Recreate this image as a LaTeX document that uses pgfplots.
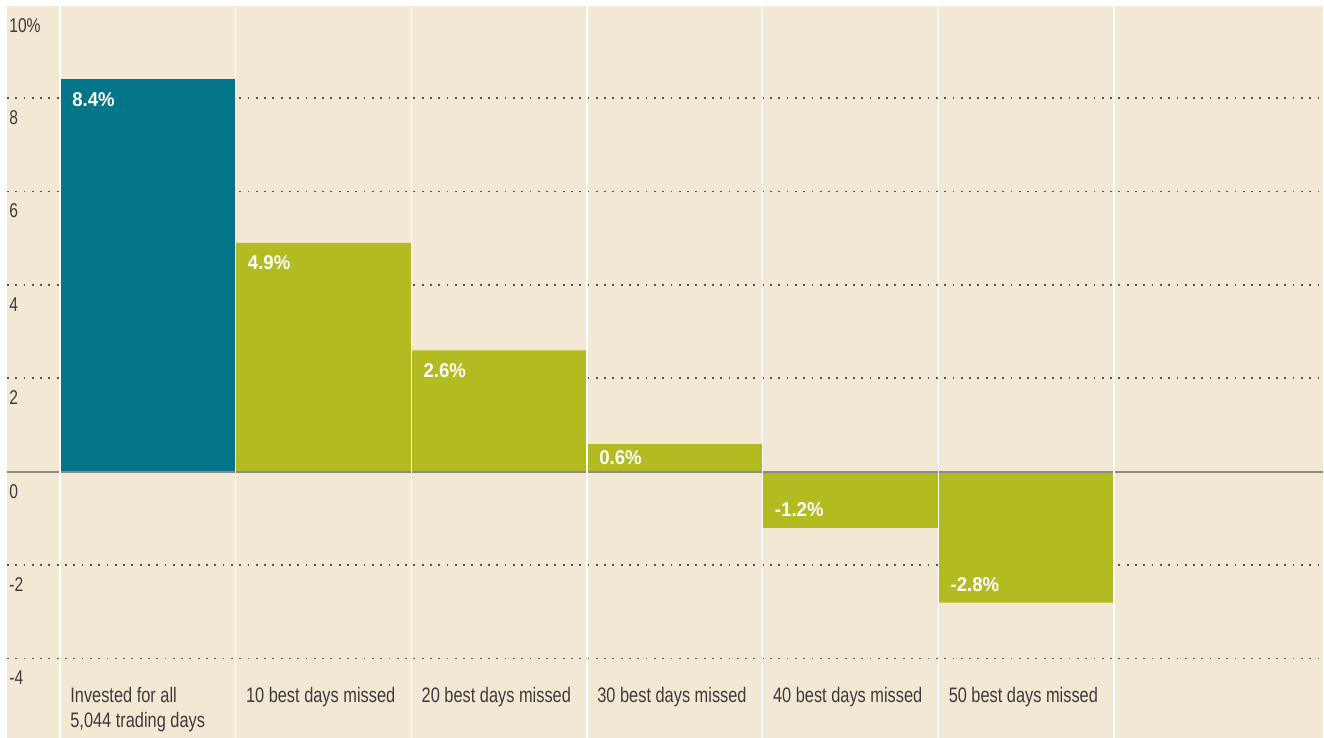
\documentclass[border=0pt]{standalone}
\usepackage{fontspec}
\setmainfont{Liberation Sans}[FakeStretch=0.78]
\newfontfamily\barfont{Liberation Sans}[FakeStretch=0.93]
\usepackage{pgfplots}
\pgfplotsset{compat=1.18}
\definecolor{bg}{HTML}{F3E8D4}
\definecolor{barteal}{HTML}{037588}
\definecolor{bargreen}{HTML}{B2BB1F}
\definecolor{txt}{HTML}{3C3C3C}
\definecolor{dotc}{HTML}{555555}
\definecolor{zeroc}{HTML}{8A8A8A}
\begin{document}
\begin{tikzpicture}
\begin{axis}[
  scale only axis, width=658.5pt, height=366pt,
  xmin=-0.3015, xmax=7.19, ymin=-5.69, ymax=9.97,
  axis line style={draw=none},
  axis background/.style={fill=bg},
  tick style={draw=none},
  ytick={-4,-2,0,2,4,6,8,9.97},
  yticklabels={-4,-2,0,2,4,6,8,10\%},
  yticklabel style={anchor=north west, inner sep=0pt, xshift=1pt, yshift=-6pt, font=\fontsize{10}{12}\selectfont, text=txt},
  extra y ticks={-4,-2,2,4,6,8},
  extra y tick labels={},
  extra y tick style={grid=major, major grid style={dotc, line width=0.9pt, dash pattern=on 0.9pt off 3.25pt}},
  xtick={0,1,2,3,4,5},
  xticklabels={{Invested for all\\5,044 trading days}, 10 best days missed, 20 best days missed, 30 best days missed, 40 best days missed, 50 best days missed},
  xticklabel style={anchor=north west, align=left, inner sep=0pt, xshift=5pt, yshift=25.5pt, font=\fontsize{10.5}{12.5}\selectfont, text=txt},
  nodes near coords align={anchor=west},
]
\addplot[ybar, bar width=1, bar shift=0pt, fill=barteal, draw=none,
  point meta=explicit symbolic, nodes near coords,
  every node near coord/.append style={anchor=west, inner sep=0pt, xshift=-38pt, yshift=-10pt, text=white, font=\barfont\bfseries\fontsize{10}{12}\selectfont}]
  coordinates {(0.5,8.4) [8.4\%]};
\addplot[ybar, bar width=1, bar shift=0pt, fill=bargreen, draw=none,
  point meta=explicit symbolic, nodes near coords,
  every node near coord/.append style={anchor=west, inner sep=0pt, xshift=-38pt, yshift=-10pt, text=white, font=\barfont\bfseries\fontsize{10}{12}\selectfont}]
  coordinates {(1.5,4.9) [4.9\%] (2.5,2.6) [2.6\%]};
\addplot[ybar, bar width=1, bar shift=0pt, fill=bargreen, draw=none,
  point meta=explicit symbolic, nodes near coords,
  every node near coord/.append style={anchor=west, inner sep=0pt, xshift=-38pt, yshift=-7pt, text=white, font=\barfont\bfseries\fontsize{10}{12}\selectfont}]
  coordinates {(3.5,0.6) [0.6\%]};
\addplot[ybar, bar width=1, bar shift=0pt, fill=bargreen, draw=none,
  point meta=explicit symbolic, nodes near coords,
  every node near coord/.append style={anchor=west, inner sep=0pt, xshift=-38pt, yshift=9pt, text=white, font=\barfont\bfseries\fontsize{10}{12}\selectfont}]
  coordinates {(4.5,-1.2) [-1.2\%] (5.5,-2.8) [-2.8\%]};
\draw[zeroc, line width=1pt] (axis cs:-0.3015,0) -- (axis cs:7.19,0);
\foreach \i in {0,...,6} {
  \edef\temp{\noexpand\draw[white, line width=0.8pt] (axis cs:\i,-5.69) -- (axis cs:\i,9.97);}
  \temp
}
\end{axis}
\path ([xshift=-3.5pt,yshift=3pt]current axis.north west) rectangle (current axis.south east);
\end{tikzpicture}
\end{document}
